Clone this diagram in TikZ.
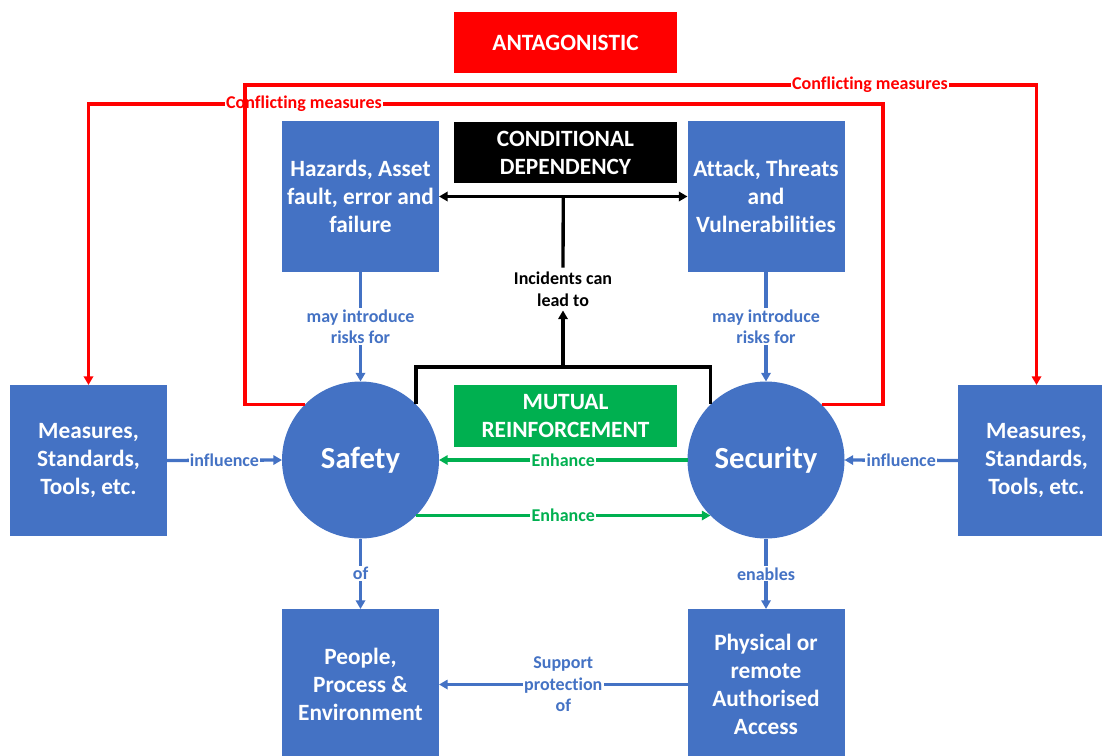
\documentclass[tikz,border=0pt]{standalone}
\usepackage{fontspec}
\setmainfont{Carlito}[Ligatures=NoCommon]
\usetikzlibrary{arrows.meta}
\definecolor{oblue}{HTML}{4472C4}
\definecolor{ored}{HTML}{FF0000}
\definecolor{ogreen}{HTML}{00B050}
\tikzset{
  box/.style={fill=oblue, text=white, font=\fontsize{17.5}{21}\selectfont\bfseries, align=center,
    inner sep=0pt, outer sep=0pt, minimum width=117.75pt, minimum height=113.25pt},
  banner/.style={text=white, font=\fontsize{17.5}{21}\selectfont\bfseries, align=center,
    inner sep=0pt, outer sep=0pt, minimum width=167.25pt, minimum height=46pt},
  circ/.style={circle, fill=oblue, text=white, font=\fontsize{23}{27}\selectfont\bfseries,
    minimum size=117.75pt, inner sep=0pt, outer sep=0pt},
  lab/.style={font=\fontsize{13.5}{16.2}\selectfont\bfseries, align=center, fill=white, inner sep=1pt},
  tip/.style={-{Triangle[length=6.5pt,width=7pt]}},
  bluearr/.style={draw=oblue, line width=2.5pt, tip},
  greenarr/.style={draw=ogreen, line width=2.5pt, tip},
  blk/.style={draw=black, line width=2.5pt},
  redl/.style={draw=ored, line width=2.6pt, tip},
}
\begin{document}
\begin{tikzpicture}[x=0.75pt,y=-0.75pt]
\useasboundingbox (0,0) rectangle (1102,756);
\clip (0,0) rectangle (1102,756);

% banners
\node[banner, fill=ored] (ant) at (565.5,42.5) {ANTAGONISTIC};
\node[banner, fill=black] (cond) at (565.5,152.5) {CONDITIONAL\\DEPENDENCY};
\node[banner, fill=ogreen] (mut) at (565.5,416) {MUTUAL\\REINFORCEMENT};

% boxes
\node[box] (haz) at (360.5,196.5) {Hazards, Asset\\fault, error and\\failure};
\node[box] (att) at (766,196.5) {Attack, Threats\\and\\Vulnerabilities};
\node[box] (lmeas) at (88.5,460.5) {Measures,\\Standards,\\Tools, etc.};
\node[box] (rmeas) at (1036.5,460.5) {Measures,\\Standards,\\Tools, etc.};
\node[box] (people) at (360.5,684.5) {People,\\Process \&\\Environment};
\node[box] (phys) at (766,684.5) {Physical or\\remote\\Authorised\\Access};

% circles
\node[circ] (safety) at (360.5,460) {Safety};
\node[circ] (security) at (766,460) {Security};

% blue connectors
\draw[bluearr] (lmeas.east) -- node[lab, text=oblue] (inf1) {influence} (safety.west);
\draw[bluearr] (rmeas.west) -- node[lab, text=oblue] (inf2) {influence} (security.east);
\draw[bluearr] (haz.south) -- node[lab, text=oblue] (mir1) {may introduce\\risks for} (safety.north);
\draw[bluearr] (att.south) -- node[lab, text=oblue] (mir2) {may introduce\\risks for} (security.north);
\draw[bluearr] (safety.south) -- node[lab, text=oblue] (of) {of} (people.north);
\draw[bluearr] (security.south) -- node[lab, text=oblue] (en) {enables} (phys.north);
\draw[bluearr] (phys.west) -- node[lab, text=oblue] (sup) {Support\\protection\\of} (people.east);

% green connectors
\draw[greenarr] (security.west) -- node[lab, text=ogreen] (enh1) {Enhance} (safety.east);
\draw[greenarr] (safety.-45) -- node[lab, text=ogreen] (enh2) {Enhance} (security.-135);

% black connectors
\draw[blk, {Triangle[length=6.5pt,width=7pt]}-{Triangle[length=6.5pt,width=7pt]}]
  (haz.east) -- coordinate (topmid) (att.west);
\node[lab, text=black, fill=none, inner sep=3pt] (inc) at (563,289) {Incidents can\\lead to};
\draw[blk] (topmid) -- (inc.north);
\coordinate (join) at (563,367);
\draw[blk] (safety.45) |- (join) -| (security.135);
\draw[blk, tip] (join) -- (inc.south);

% red connectors
\coordinate (c2) at (883,104);
\coordinate (c1) at (245,85);
\draw[redl] (security.45) -| (c2) -| (lmeas.north);
\node[lab, text=ored] (cm2) at (304,104) {Conflicting measures};
\draw[redl] (safety.135) -| (c1) -| (rmeas.north);
\node[lab, text=ored] (cm1) at (870,85) {Conflicting measures};
\end{tikzpicture}
\end{document}
